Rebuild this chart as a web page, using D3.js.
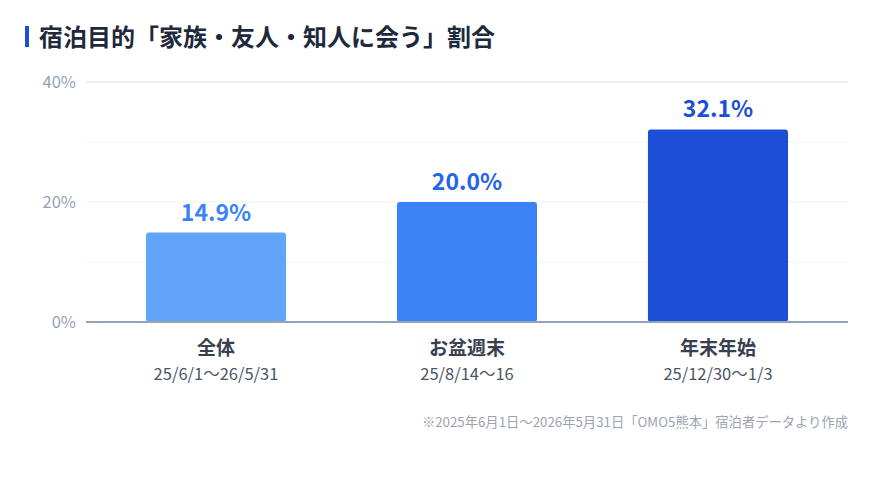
<!DOCTYPE html>
<html>
<head>
<meta charset="utf-8">
<script src="https://cdn.jsdelivr.net/npm/d3@7"></script>
<style>
  body { margin: 0; background: #fff; }
  svg { display: block; font-family: "Noto Sans CJK JP", "Noto Sans", sans-serif; }
</style>
</head>
<body>
<div id="chart"></div>
<script>
const categories = ["全体", "お盆週末", "年末年始"];
const periods = ["25/6/1〜26/5/31", "25/8/14〜16", "25/12/30〜1/3"];
const values = [14.9, 20.0, 32.1];
const barColors = ["#60a5fa", "#3b82f6", "#1d4ed8"];
const labelColors = ["#3b82f6", "#2563eb", "#1d4ed8"];
const majorTicks = [0, 20, 40];
const minorTicks = [10, 30];

const width = 886, height = 478;
const margin = { top: 82, right: 38, bottom: 156, left: 86 };

const svg = d3.select("#chart").append("svg")
  .attr("width", width)
  .attr("height", height);

// title
svg.append("rect")
  .attr("x", 25).attr("y", 26)
  .attr("width", 4).attr("height", 21)
  .attr("fill", "#1d4ed8");

svg.append("text")
  .attr("x", 39).attr("y", 46)
  .attr("font-size", 24)
  .attr("font-weight", 700)
  .attr("fill", "#1e293b")
  .text("宿泊目的「家族・友人・知人に会う」割合");

var x = d3.scaleBand()
  .domain(categories)
  .range([margin.left, width - margin.right])
  .paddingInner(0.442)
  .paddingOuter(0.239);

var y = d3.scaleLinear()
  .domain([0, 40])
  .range([height - margin.bottom, margin.top]);

var g = svg.append("g");

// grid lines
g.selectAll("line.minor")
  .data(minorTicks)
  .enter().append("line")
  .attr("class", "minor")
  .attr("x1", margin.left).attr("x2", width - margin.right)
  .attr("y1", d => y(d)).attr("y2", d => y(d))
  .attr("stroke", "#f3f4f6")
  .attr("stroke-width", 1);

g.selectAll("line.major")
  .data(majorTicks.filter(d => d > 0))
  .enter().append("line")
  .attr("class", "major")
  .attr("x1", margin.left).attr("x2", width - margin.right)
  .attr("y1", d => y(d)).attr("y2", d => y(d))
  .attr("stroke", d => d === 40 ? "#e5e7eb" : "#eef0f3")
  .attr("stroke-width", d => d === 40 ? 1.5 : 1);

// y labels
g.selectAll("text.ytick")
  .data(majorTicks)
  .enter().append("text")
  .attr("class", "ytick")
  .attr("x", margin.left - 10)
  .attr("y", d => y(d) + 6)
  .attr("text-anchor", "end")
  .attr("font-size", 16.5)
  .attr("fill", "#94a3b8")
  .text(d => d + "%");

// bars
g.selectAll("rect.bar")
  .data(values)
  .enter().append("rect")
  .attr("class", "bar")
  .attr("x", (d, i) => x(categories[i]))
  .attr("y", d => y(d))
  .attr("width", x.bandwidth())
  .attr("height", d => y(0) - y(d))
  .attr("rx", 3)
  .attr("fill", (d, i) => barColors[i]);

// value labels
g.selectAll("text.val")
  .data(values)
  .enter().append("text")
  .attr("class", "val")
  .attr("x", (d, i) => x(categories[i]) + x.bandwidth() / 2)
  .attr("y", d => y(d) - 12)
  .attr("text-anchor", "middle")
  .attr("font-size", 23)
  .attr("font-weight", 700)
  .attr("fill", (d, i) => labelColors[i])
  .text(d => d.toFixed(1) + "%");

// baseline
g.append("line")
  .attr("x1", margin.left).attr("x2", width - margin.right)
  .attr("y1", y(0)).attr("y2", y(0))
  .attr("stroke", "#94a3b8")
  .attr("stroke-width", 2);

// category labels
g.selectAll("text.cat")
  .data(categories)
  .enter().append("text")
  .attr("class", "cat")
  .attr("x", d => x(d) + x.bandwidth() / 2)
  .attr("y", y(0) + 33)
  .attr("text-anchor", "middle")
  .attr("font-size", 19)
  .attr("font-weight", 700)
  .attr("fill", "#374151")
  .text(d => d);

g.selectAll("text.period")
  .data(periods)
  .enter().append("text")
  .attr("class", "period")
  .attr("x", (d, i) => x(categories[i]) + x.bandwidth() / 2)
  .attr("y", y(0) + 58)
  .attr("text-anchor", "middle")
  .attr("font-size", 16.5)
  .attr("fill", "#4b5563")
  .text(d => d);

// footnote
svg.append("text")
  .attr("x", width - margin.right)
  .attr("y", 427)
  .attr("text-anchor", "end")
  .attr("font-size", 13.3)
  .attr("fill", "#9ca3af")
  .text("※2025年6月1日〜2026年5月31日「OMO5熊本」宿泊者データより作成");
</script>
</body>
</html>
